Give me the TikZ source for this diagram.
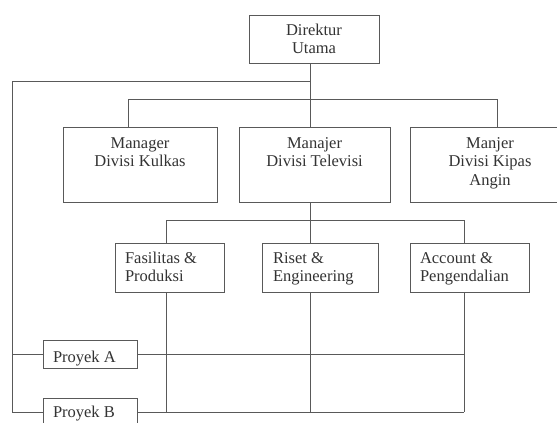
\documentclass[tikz,border=0pt]{standalone}
\usepackage{fontspec}
\setmainfont{Liberation Serif}
\definecolor{linec}{gray}{0.35}
\definecolor{txtc}{gray}{0.2}
\begin{document}
\begin{tikzpicture}[x=1pt,y=-1pt,
  box/.style={draw=linec,line width=0.9pt,inner sep=0pt,outer sep=0pt,anchor=north west,
    text=txtc,font=\fontsize{16.5}{18.5}\selectfont},
  conn/.style={draw=linec,line width=0.9pt}]
\clip (0,0) rectangle (557,423);
\fill[white] (0,0) rectangle (557,423);
% boxes
\node[box] (dir) at (249,15) {\parbox[c][48pt][t]{130pt}{\centering\rule{0pt}{20pt}Direktur\\Utama}};
\node[box] (kul) at (63,127) {\parbox[c][75pt][t]{154pt}{\centering\rule{0pt}{21pt}Manager\\Divisi Kulkas}};
\node[box] (tv) at (239,127) {\parbox[c][75pt][t]{151pt}{\centering\rule{0pt}{21pt}Manajer\\Divisi Televisi}};
\node[box] (kip) at (410,127) {\parbox[c][75pt][t]{160pt}{\centering\rule{0pt}{21pt}Manjer\\Divisi Kipas\\Angin}};
\node[box] (fas) at (115,243) {\parbox[c][49pt][t]{109pt}{\raggedright\leftskip=10pt\rule{0pt}{20pt}Fasilitas \&\\Produksi}};
\node[box] (ris) at (262,243) {\parbox[c][49pt][t]{116pt}{\raggedright\leftskip=11pt\rule{0pt}{20pt}Riset \&\\Engineering}};
\node[box] (acc) at (410,243) {\parbox[c][49pt][t]{119pt}{\raggedright\leftskip=10pt\rule{0pt}{20pt}Account \&\\Pengendalian}};
\node[box] (pa) at (43,340) {\parbox[c][28pt][t]{94pt}{\raggedright\leftskip=10pt\rule{0pt}{22pt}Proyek A}};
\node[box] (pb) at (43,398) {\parbox[c][28pt][t]{94pt}{\raggedright\leftskip=10pt\rule{0pt}{19pt}Proyek B}};
% junction coordinates
\coordinate (spine) at (310,0);
\coordinate (lc) at (12,81);
\coordinate (k1) at (128,99);
\coordinate (k3) at (497,99);
\coordinate (f1) at (166,220);
\coordinate (a1) at (464,220);
% connectors
\draw[conn] (dir.south -| spine) -- (tv.north -| spine);
\draw[conn] (lc -| spine) -- (lc) -- (lc |- pb.west) -- (pb.west);
\draw[conn] (lc |- pa.west) -- (pa.west);
\draw[conn] (kul.north -| k1) -- (k1) -- (k3) -- (kip.north -| k3);
\draw[conn] (tv.south -| spine) -- (ris.north -| spine);
\draw[conn] (fas.north -| f1) -- (f1) -- (a1) -- (acc.north -| a1);
\draw[conn] (fas.south -| f1) -- (f1 |- pb.east);
\draw[conn] (ris.south -| spine) -- (spine |- pb.east);
\draw[conn] (acc.south -| a1) -- (a1 |- pb.east);
\draw[conn] (pa.east) -- (pa.east -| a1);
\draw[conn] (pb.east) -- (pb.east -| a1);
\end{tikzpicture}
\end{document}
